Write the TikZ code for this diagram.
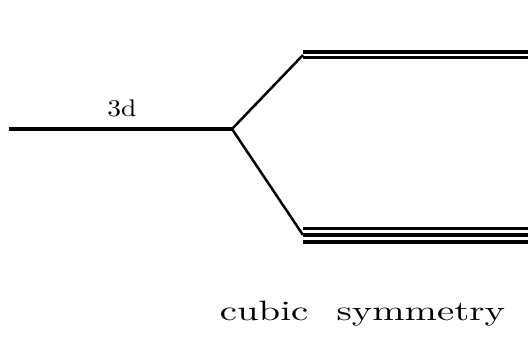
\documentclass[tikz,border=0pt]{standalone}
\usepackage{fontspec}
\setmainfont{Latin Modern Roman}
\newfontfamily\lmten[Extension=.otf]{lmroman10-regular}
\begin{document}
\begin{tikzpicture}[x=1pt,y=-1pt,
  level/.style={line width=3.2pt},
  sublevel/.style={line width=3.1pt},
  conn/.style={line width=2.5pt},
  lbl/.style={inner sep=0pt,anchor=base}]
\useasboundingbox (0,0) rectangle (532,339);
\coordinate (L0) at (9,129);
\coordinate (B) at (232,129);
\coordinate (Ta) at (303,52);
\coordinate (Tae) at (528,52);
\coordinate (Tb) at (303,57.5);
\coordinate (Tbe) at (528,57.5);
\coordinate (Ua) at (303,228.5);
\coordinate (Uae) at (528,228.5);
\coordinate (Ub) at (303,235);
\coordinate (Ube) at (528,235);
\coordinate (Uc) at (303,242);
\coordinate (Uce) at (528,242);
\coordinate (TM) at (303,55);
\coordinate (UM) at (303,235);
\draw[level] (L0) -- (B);
\draw[conn] (B) -- (TM);
\draw[conn] (B) -- (UM);
\draw[sublevel] (Ta) -- (Tae);
\draw[sublevel] (Tb) -- (Tbe);
\draw[sublevel] (Ua) -- (Uae);
\draw[sublevel] (Ub) -- (Ube);
\draw[sublevel] (Uc) -- (Uce);
\node[lbl] (d3) at (122,117) {\lmten\fontsize{24}{26}\selectfont\scalebox{1.15}[1]{3d}};
\node[lbl] (cs) at (362.5,320) {\lmten\fontsize{28}{30}\selectfont\scalebox{1.385}[1]{cubic\hspace{0.4em} symmetry}};
\end{tikzpicture}
\end{document}
